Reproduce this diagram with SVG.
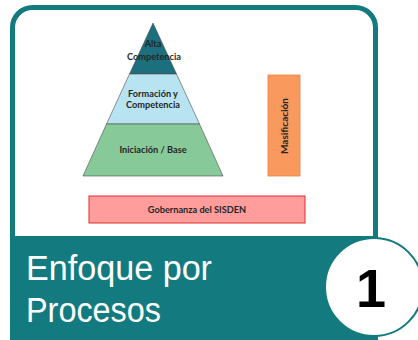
<svg xmlns="http://www.w3.org/2000/svg" width="418" height="340" viewBox="0 0 418 340">
<style>
.lbl{font-family:Lato,"Liberation Sans",sans-serif;font-weight:bold;font-size:9.2px;fill:#262626;text-anchor:middle}
.title{font-family:"Liberation Sans",Arial,sans-serif;font-size:35px;fill:#ffffff}
.pyr{stroke:#4a4a4a;stroke-width:0.6}
</style>
<rect width="418" height="340" fill="#ffffff"/>
<g id="frame">
<path d="M12.5,240 V27.5 A20,20 0 0 1 32.5,7.5 H355.5 A20,20 0 0 1 375.5,27.5 V240" fill="#ffffff" stroke="#137b80" stroke-width="5"/>
<rect x="10" y="236" width="368" height="104" fill="#137b80"/>
</g>
<g id="pyramid">
<polygon class="pyr" points="153,23 176.5,74 129.5,74" fill="#1c6f7d"/>
<polygon class="pyr" points="129.5,74 176.5,74 199.5,124 106.5,124" fill="#b8e3f1"/>
<polygon class="pyr" points="106.5,124 199.5,124 223,176 83,176" fill="#88c99a"/>
<text class="lbl" x="153" y="47">Alta</text>
<text class="lbl" x="154" y="60">Competencia</text>
<text class="lbl" x="153" y="97">Formación y</text>
<text class="lbl" x="153" y="108">Competencia</text>
<text class="lbl" x="153" y="153">Iniciación / Base</text>
</g>
<g id="masificacion">
<rect x="268" y="75" width="32" height="101" fill="#f9995e" stroke="#e9803f" stroke-width="0.8"/>
<text class="lbl" style="font-size:10px" transform="translate(287.5,126) rotate(-90)">Masificación</text>
</g>
<g id="gobernanza">
<rect x="89" y="196" width="216" height="27" fill="#ff9d9d" stroke="#e02c2c" stroke-width="1"/>
<text class="lbl" x="197" y="213">Gobernanza del SISDEN</text>
</g>
<g id="title">
<text class="title" x="26" y="280" textLength="186" lengthAdjust="spacingAndGlyphs">Enfoque por</text>
<text class="title" x="26" y="322" textLength="135" lengthAdjust="spacingAndGlyphs">Procesos</text>
</g>
<g id="badge">
<circle cx="374" cy="287" r="49" fill="#ffffff" stroke="#137b80" stroke-width="2"/>
<text x="371" y="307" font-family="'Liberation Sans',Arial,sans-serif" font-weight="bold" font-size="54" fill="#000000" text-anchor="middle">1</text>
</g>
<g id="connectors"/>
</svg>
